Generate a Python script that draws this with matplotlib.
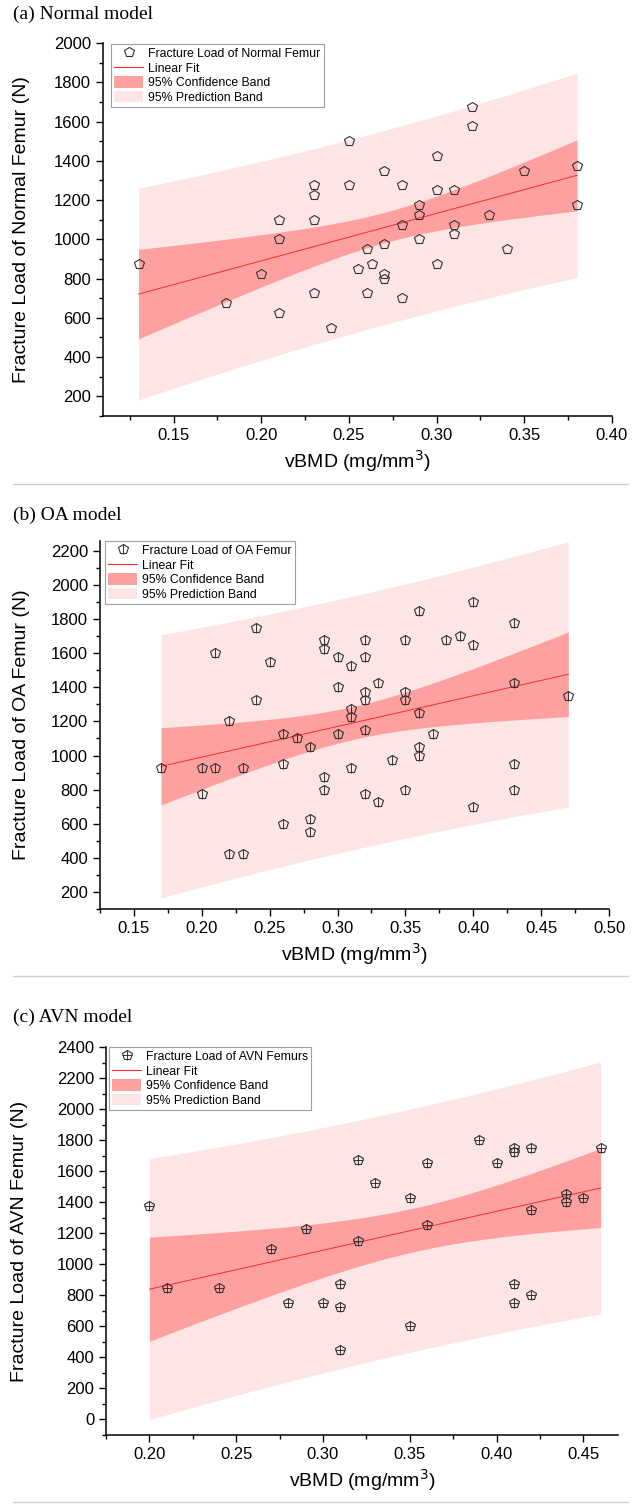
import matplotlib.pyplot as plt
import numpy as np
from matplotlib.lines import Line2D
from matplotlib.patches import Patch
from matplotlib.legend_handler import HandlerTuple

plt.rcParams['font.family'] = ['Liberation Sans', 'DejaVu Sans']

# (a) Normal model
normal_vbmd = [0.13, 0.18, 0.20, 0.21, 0.21, 0.21, 0.23, 0.23, 0.23, 0.23,
               0.24, 0.25, 0.25, 0.26, 0.26, 0.255, 0.263, 0.27, 0.27, 0.27,
               0.27, 0.28, 0.28, 0.28, 0.29, 0.29, 0.29, 0.30, 0.30, 0.30,
               0.31, 0.31, 0.31, 0.32, 0.32, 0.33, 0.34, 0.35, 0.38, 0.38]
normal_load = [875, 675, 825, 1100, 1000, 625, 1275, 1225, 1100, 725,
               550, 1500, 1275, 950, 725, 850, 875, 1350, 975, 825,
               800, 1275, 1075, 700, 1175, 1125, 1000, 1425, 1250, 875,
               1250, 1075, 1025, 1675, 1575, 1125, 950, 1350, 1375, 1175]

# (b) OA model
oa_vbmd = [0.17, 0.20, 0.20, 0.21, 0.21, 0.22, 0.22, 0.23, 0.23, 0.24,
           0.24, 0.25, 0.26, 0.26, 0.26, 0.27, 0.28, 0.28, 0.28, 0.29,
           0.29, 0.29, 0.29, 0.30, 0.30, 0.30, 0.31, 0.31, 0.31, 0.31,
           0.32, 0.32, 0.32, 0.32, 0.32, 0.32, 0.33, 0.33, 0.34, 0.35,
           0.35, 0.35, 0.35, 0.36, 0.36, 0.36, 0.36, 0.37, 0.38, 0.39,
           0.40, 0.40, 0.40, 0.43, 0.43, 0.43, 0.43, 0.47]
oa_load = [925, 925, 775, 925, 1600, 1200, 425, 925, 425, 1750,
           1325, 1550, 1125, 950, 600, 1100, 1050, 625, 550, 1675,
           1625, 875, 800, 1575, 1400, 1125, 1525, 1275, 1225, 925,
           1675, 1575, 1375, 1325, 1150, 775, 1425, 725, 975, 1675,
           1375, 1325, 800, 1850, 1250, 1050, 1000, 1125, 1675, 1700,
           1900, 1650, 700, 1775, 1425, 950, 800, 1350]

# (c) AVN model
avn_vbmd = [0.20, 0.21, 0.24, 0.27, 0.28, 0.29, 0.30, 0.31, 0.31, 0.31,
            0.32, 0.32, 0.33, 0.35, 0.35, 0.36, 0.36, 0.39, 0.40, 0.41,
            0.41, 0.41, 0.41, 0.42, 0.42, 0.42, 0.44, 0.44, 0.45, 0.46]
avn_load = [1375, 850, 850, 1100, 750, 1225, 750, 875, 725, 450,
            1675, 1150, 1525, 1425, 600, 1650, 1250, 1800, 1650, 1750,
            1725, 875, 750, 1750, 1350, 800, 1450, 1400, 1425, 1750]

# two-sided 95% t values for df = n - 2
t95 = {38: 2.0244, 56: 2.0032, 28: 2.0484}

pred_col = '#fde4e5'
conf_col = '#ffa0a0'
fit_col = '#ff2a2a'
edge_col = '#333333'


def draw_fit(ax, x, y):
    x = np.asarray(x)
    y = np.asarray(y, dtype=float)
    n = len(x)
    t = t95[n - 2]
    b, a = np.polyfit(x, y, 1)
    xs = np.linspace(x.min(), x.max(), 200)
    fit = a + b * xs
    s = np.sqrt(np.sum((y - (a + b * x)) ** 2) / (n - 2))
    sxx = np.sum((x - x.mean()) ** 2)
    se = s * np.sqrt(1 / n + (xs - x.mean()) ** 2 / sxx)
    sp = s * np.sqrt(1 + 1 / n + (xs - x.mean()) ** 2 / sxx)
    ax.fill_between(xs, fit - t * sp, fit + t * sp, color=pred_col, lw=0)
    ax.fill_between(xs, fit - t * se, fit + t * se, color=conf_col, lw=0)
    ax.plot(xs, fit, color=fit_col, lw=0.7)


def style_axes(ax, xticks, yticks, xlim, ylim):
    ax.set_xlim(*xlim)
    ax.set_ylim(*ylim)
    ax.set_xticks(xticks)
    ax.set_yticks(yticks)
    ax.set_xticks([v + 0.025 for v in xticks[:-1]] + [xticks[0] - 0.025], minor=True)
    ax.set_yticks([v + 100 for v in yticks[:-1]] + [yticks[0] - 100], minor=True)
    ax.set_xticklabels(['%.2f' % v for v in xticks])
    ax.spines['top'].set_visible(False)
    ax.spines['right'].set_visible(False)
    for sp in ['left', 'bottom']:
        ax.spines[sp].set_linewidth(1.1)
    ax.tick_params(which='major', direction='out', length=5, width=1.0, labelsize=12)
    ax.tick_params(which='minor', direction='out', length=2.8, width=1.0)
    ax.set_xlabel('vBMD (mg/mm$^3$)', fontsize=14, labelpad=4)


def make_legend(ax, label, overlay, anchor):
    h_pts = Line2D([], [], ls='none', marker='p', mfc='none', mec=edge_col,
                   ms=7.5, mew=0.8)
    if overlay:
        h_over = Line2D([], [], ls='none', marker=overlay, mec=edge_col,
                        ms=6.5, mew=0.7)
        h_pts = (h_pts, h_over)
    handles = [h_pts,
               Line2D([], [], color=fit_col, lw=0.8),
               Patch(facecolor=conf_col, lw=0),
               Patch(facecolor=pred_col, lw=0)]
    labels = [label, 'Linear Fit', '95% Confidence Band', '95% Prediction Band']
    leg = ax.legend(handles, labels, loc='upper left', bbox_to_anchor=anchor,
                    borderaxespad=0, fontsize=8.8, frameon=True, fancybox=False,
                    framealpha=1, edgecolor='#a0a0a0', handlelength=2.4,
                    handleheight=1.1, labelspacing=0.12, borderpad=0.25,
                    handletextpad=0.4,
                    handler_map={tuple: HandlerTuple(ndivide=1, pad=0)})
    leg.get_frame().set_linewidth(0.8)


fig = plt.figure(figsize=(6.38, 15.06), dpi=100)
W, H = 638.0, 1506.0

panels = [
    dict(title='(a) Normal model', ty=14, rect=(103, 43, 612, 416),
         x=normal_vbmd, y=normal_load, overlay=None,
         ylabel='Fracture Load of Normal Femur (N)',
         label='Fracture Load of Normal Femur',
         xticks=[0.15, 0.20, 0.25, 0.30, 0.35, 0.40], yticks=list(range(200, 2001, 200)),
         xlim=(0.1097, 0.40), ylim=(145, 2000), lx=-0.143, anchor=(8 / 509, 0.997)),
    dict(title='(b) OA model', ty=515, rect=(100, 541, 609, 909),
         x=oa_vbmd, y=oa_load, overlay='|',
         ylabel='Fracture Load of OA Femur (N)',
         label='Fracture Load of OA Femur',
         xticks=[0.15, 0.20, 0.25, 0.30, 0.35, 0.40, 0.45, 0.50], yticks=list(range(200, 2201, 200)),
         xlim=(0.1458, 0.50), ylim=(123, 2258), lx=-0.138, anchor=(5 / 509, 1.0)),
    dict(title='(c) AVN model', ty=1017, rect=(106, 1047, 618, 1435),
         x=avn_vbmd, y=avn_load, overlay='+',
         ylabel='Fracture Load of AVN Femur (N)',
         label='Fracture Load of AVN Femurs',
         xticks=[0.20, 0.25, 0.30, 0.35, 0.40, 0.45], yticks=list(range(0, 2401, 200)),
         xlim=(0.179, 0.47), ylim=(-25, 2400), lx=-0.152, anchor=(3 / 512, 1.0)),
]

for p in panels:
    l, t, r, b = p['rect']
    ax = fig.add_axes([l / W, 1 - b / H, (r - l) / W, (b - t) / H])
    draw_fit(ax, p['x'], p['y'])
    ax.plot(p['x'], p['y'], ls='none', marker='p', mfc='none', mec=edge_col,
            ms=7.5, mew=0.8, zorder=3)
    if p['overlay']:
        ax.plot(p['x'], p['y'], ls='none', marker=p['overlay'], mec=edge_col,
                ms=6.5, mew=0.7, zorder=3)
    style_axes(ax, p['xticks'], p['yticks'], p['xlim'], p['ylim'])
    ax.set_ylabel(p['ylabel'], fontsize=14)
    ax.yaxis.set_label_coords(p['lx'], 0.5)
    make_legend(ax, p['label'], p['overlay'], p['anchor'])
    fig.text(13 / W, 1 - p['ty'] / H, p['title'], family=['Liberation Serif', 'DejaVu Serif'],
             fontsize=14, ha='left', va='center')

# thin grey separators between panels
for sy in [484, 976, 1502]:
    fig.add_artist(Line2D([13 / W, 628 / W], [1 - sy / H, 1 - sy / H],
                          color='#d0d0d0', lw=1.0))

fig.savefig('out.png', dpi=100)
